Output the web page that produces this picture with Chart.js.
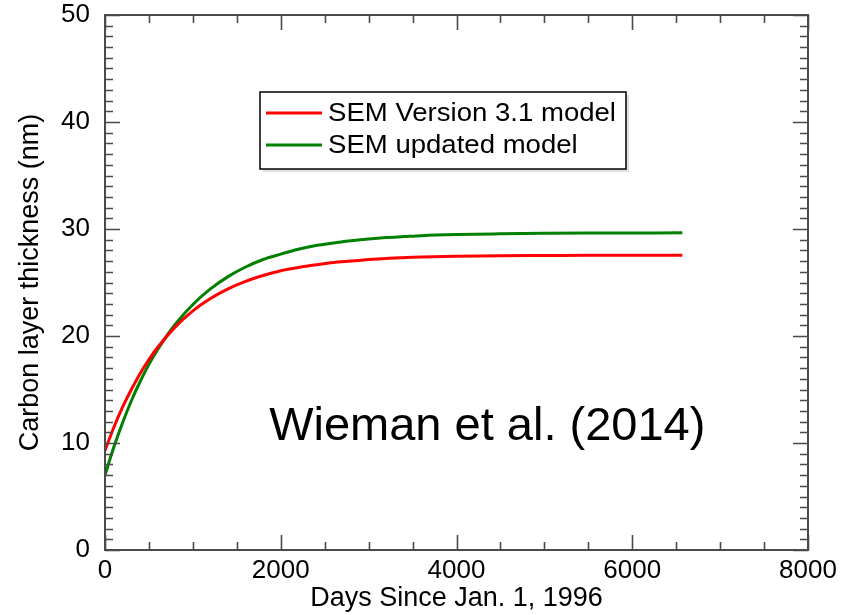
<!DOCTYPE html>
<html>
<head>
<meta charset="utf-8">
<title>Carbon layer thickness</title>
<script src="https://cdn.jsdelivr.net/npm/chart.js@4.4.1/dist/chart.umd.min.js"></script>
<style>
  html, body { margin: 0; padding: 0; background: #fff; }
  canvas { display: block; }
</style>
</head>
<body>
<canvas id="mycanvas" width="856" height="615"></canvas>
<script>
// days since Jan 1, 1996
var days = [0, 100, 200, 300, 400, 500, 600, 800, 1000, 1200, 1400, 1600, 1800, 2000,
            2200, 2400, 2600, 2800, 3000, 3200, 3400, 3600, 4000, 4500, 5000, 5500, 6000, 6570];
// carbon layer thickness (nm)
var semV31 = [9.3, 11.45, 13.35, 15.0, 16.5, 17.8, 18.95, 20.85, 22.35, 23.5, 24.4, 25.1, 25.65, 26.1,
              26.4, 26.65, 26.87, 27.0, 27.14, 27.25, 27.32, 27.38, 27.45, 27.5, 27.52, 27.54, 27.55, 27.55];
var semUpdated = [7.0, 9.6, 11.9, 13.95, 15.75, 17.35, 18.75, 21.1, 22.95, 24.4, 25.55, 26.45, 27.15, 27.65,
                  28.1, 28.45, 28.7, 28.9, 29.07, 29.2, 29.29, 29.38, 29.48, 29.55, 29.6, 29.62, 29.63, 29.64];
var seriesNames = ['SEM Version 3.1 model', 'SEM updated model'];
var seriesColors = ['#ff0000', '#008000'];

var xTicks = {min: 0, max: 8000, major: 2000, minor: 500};
var yTicks = {min: 0, max: 50, major: 10, minor: 1};

var note = {text: 'Wieman et al. (2014)', x: 4350, y: 10.25};

var FONT = '"Liberation Sans", Arial, Helvetica, sans-serif';
var AXIS_COLOR = '#4a4a4a';

function toPoints(xs, ys) {
	var pts = [];
	for (var i = 0; i < xs.length; i++) {
		pts.push({x: xs[i], y: ys[i]});
	}
	return pts;
}

// box around the plot with inward ticks on all four sides
var frameTicks = {
	id: 'frameTicks',
	afterDraw: function(chart) {
		var ctx = chart.ctx;
		var a = chart.chartArea;
		var xs = chart.scales.x, ys = chart.scales.y;
		ctx.save();
		ctx.strokeStyle = AXIS_COLOR;
		ctx.lineWidth = 1.6;
		ctx.beginPath();
		var v, p, len;
		for (v = xTicks.min; v <= xTicks.max; v += xTicks.minor) {
			p = Math.round(xs.getPixelForValue(v)) + 0.5;
			len = (v % xTicks.major === 0) ? 15 : 8;
			ctx.moveTo(p, a.bottom); ctx.lineTo(p, a.bottom - len);
			ctx.moveTo(p, a.top); ctx.lineTo(p, a.top + len);
		}
		for (v = yTicks.min; v <= yTicks.max; v += yTicks.minor) {
			p = Math.round(ys.getPixelForValue(v)) + 0.5;
			len = (v % yTicks.major === 0) ? 15 : 8;
			ctx.moveTo(a.left, p); ctx.lineTo(a.left + len, p);
			ctx.moveTo(a.right, p); ctx.lineTo(a.right - len, p);
		}
		ctx.stroke();
		ctx.lineWidth = 2;
		ctx.strokeRect(a.left, a.top, a.right - a.left, a.bottom - a.top);
		ctx.restore();
	}
};

// boxed legend inside the plot, plus the citation text
var boxLegend = {
	id: 'boxLegend',
	afterDraw: function(chart) {
		var ctx = chart.ctx;
		var a = chart.chartArea;
		var bx = a.left + 155, by = a.top + 77, bw = 366, bh = 77;
		ctx.save();
		ctx.fillStyle = 'rgba(0,0,0,0.12)';
		ctx.fillRect(bx + 3, by + 3, bw, bh);
		ctx.fillStyle = '#fff';
		ctx.fillRect(bx, by, bw, bh);
		ctx.strokeStyle = '#000';
		ctx.lineWidth = 1.5;
		ctx.strokeRect(bx, by, bw, bh);

		ctx.font = '26px ' + FONT;
		ctx.textBaseline = 'middle';
		ctx.textAlign = 'left';
		chart.data.datasets.forEach(function(ds, i) {
			var ly = by + 21 + i * 32;
			ctx.strokeStyle = ds.borderColor;
			ctx.lineWidth = 3;
			ctx.beginPath();
			ctx.moveTo(bx + 6, ly);
			ctx.lineTo(bx + 62, ly);
			ctx.stroke();
			ctx.fillStyle = '#000';
			ctx.save();
			ctx.translate(bx + 68, ly + 1);
			ctx.scale(1.06, 1);
			ctx.fillText(ds.label, 0, 0);
			ctx.restore();
		});

		ctx.font = '47px ' + FONT;
		ctx.textAlign = 'center';
		ctx.textBaseline = 'alphabetic';
		ctx.fillStyle = '#000';
		ctx.fillText(note.text, chart.scales.x.getPixelForValue(note.x), chart.scales.y.getPixelForValue(note.y));
		ctx.restore();
	}
};

var ctx = document.getElementById('mycanvas').getContext('2d');

var chartdata = {
	datasets: [
		{
			label: seriesNames[0],
			data: toPoints(days, semV31),
			borderColor: seriesColors[0],
			backgroundColor: seriesColors[0],
			borderWidth: 3,
			pointRadius: 0,
			cubicInterpolationMode: 'monotone',
			fill: false
		},
		{
			label: seriesNames[1],
			data: toPoints(days, semUpdated),
			borderColor: seriesColors[1],
			backgroundColor: seriesColors[1],
			borderWidth: 3,
			pointRadius: 0,
			cubicInterpolationMode: 'monotone',
			fill: false
		}
	]
};

var chart = new Chart(ctx, {
	type: 'line',
	data: chartdata,
	options: {
		responsive: false,
		animation: false,
		layout: {padding: {left: 0, right: 48, top: 15, bottom: 0}},
		plugins: {
			legend: {display: false},
			tooltip: {enabled: false}
		},
		scales: {
			x: {
				type: 'linear',
				min: xTicks.min,
				max: xTicks.max,
				grid: {display: false, drawTicks: false},
				border: {display: false},
				ticks: {
					stepSize: xTicks.major,
					padding: 5,
					color: '#000',
					maxRotation: 0,
					autoSkip: false,
					font: {family: FONT, size: 26},
					callback: function(v) { return String(v); }
				},
				title: {
					display: true,
					text: 'Days Since Jan. 1, 1996',
					color: '#000',
					font: {family: FONT, size: 27},
					padding: {top: 0, bottom: 0}
				},
				afterFit: function(s) {
					s.height = 65;
					s.paddingLeft = 0;
					s.paddingRight = 0;
				}
			},
			y: {
				min: yTicks.min,
				max: yTicks.max,
				grid: {display: false, drawTicks: false},
				border: {display: false},
				ticks: {
					stepSize: yTicks.major,
					padding: 15,
					color: '#000',
					font: {family: FONT, size: 26},
					callback: function(v) { return String(v); }
				},
				title: {
					display: true,
					text: 'Carbon layer thickness (nm)',
					color: '#000',
					font: {family: FONT, size: 27},
					padding: {top: 14, bottom: 0}
				},
				afterFit: function(s) {
					s.width = 105;
					s.paddingTop = 0;
					s.paddingBottom = 0;
				}
			}
		}
	},
	plugins: [frameTicks, boxLegend]
});
</script>
</body>
</html>
